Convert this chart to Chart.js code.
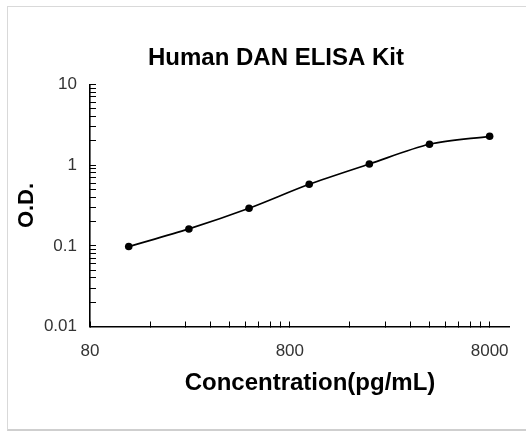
<!DOCTYPE html>
<html>
<head>
<meta charset="utf-8">
<script src="https://cdn.jsdelivr.net/npm/chart.js@4"></script>
<style>
html,body{margin:0;padding:0;background:#fff;}
#wrap{position:relative;width:526px;height:434px;overflow:hidden;}
#frame{position:absolute;left:7px;top:6px;width:560px;height:422px;border-left:1px solid #d9d9d9;border-top:1px solid #d9d9d9;border-bottom:2px solid #cfcfcf;}
canvas{position:absolute;left:0;top:0;}
</style>
</head>
<body>
<div id="wrap"><div id="frame"></div><canvas id="c" width="526" height="434"></canvas></div>
<script>
const chartTitle = 'Human DAN ELISA Kit';
const xAxisTitle = 'Concentration(pg/mL)';
const yAxisTitle = 'O.D.';
const concentrations = [125, 250, 500, 1000, 2000, 4000, 8000];
const odValues = [0.098, 0.162, 0.292, 0.579, 1.034, 1.815, 2.28];
const xTickValues = [80, 160, 240, 320, 400, 480, 560, 640, 720, 800, 1600, 2400, 3200, 4000, 4800, 5600, 6400, 7200, 8000];
const xTickLabels = ['80', '800', '8000'];
const yTickValues = [0.01, 0.02, 0.03, 0.04, 0.05, 0.06, 0.07, 0.08, 0.09, 0.1, 0.2, 0.3, 0.4, 0.5, 0.6, 0.7, 0.8, 0.9, 1, 2, 3, 4, 5, 6, 7, 8, 9, 10];
const yTickLabels = ['0.01', '0.1', '1', '10'];

const FONT = "'Liberation Sans', Arial, sans-serif";

const xTitlePlugin = {
  id: 'xTitle',
  afterDraw(chart) {
    const a = chart.chartArea;
    const ctx = chart.ctx;
    ctx.save();
    ctx.font = 'bold 24px ' + FONT;
    ctx.fillStyle = '#000';
    ctx.textAlign = 'center';
    ctx.textBaseline = 'middle';
    ctx.fillText(xAxisTitle, (a.left + a.right) / 2 + 10.5, a.bottom + 57.1);
    ctx.restore();
  }
};

new Chart(document.getElementById('c'), {
  type: 'line',
  data: {
    datasets: [{
      data: concentrations.map((x, i) => ({ x: x, y: odValues[i] })),
      borderColor: '#000',
      backgroundColor: '#000',
      borderWidth: 1.7,
      pointRadius: 3.8,
      pointBackgroundColor: '#000',
      pointBorderWidth: 0,
      tension: 0.3,
      fill: false
    }]
  },
  options: {
    responsive: false,
    animation: false,
    devicePixelRatio: 1,
    layout: { padding: { left: 43, right: 17, top: 0, bottom: 0 } },
    plugins: {
      legend: { display: false },
      tooltip: { enabled: false },
      title: {
        display: true,
        text: chartTitle,
        color: '#000',
        font: { family: FONT, size: 24, weight: 'bold' },
        padding: { top: 43.6, bottom: 12.1 }
      }
    },
    scales: {
      x: {
        type: 'logarithmic',
        min: 80,
        max: 10000,
        afterBuildTicks: s => { s.ticks = xTickValues.map(v => ({ value: v })); },
        afterFit: s => { s.height = 107.5; s.paddingLeft = 0; s.paddingRight = 0; },
        grid: { display: true, drawOnChartArea: false, drawTicks: true, tickLength: -5, color: '#000', lineWidth: 1 },
        border: { display: true, color: '#000', width: 1.6 },
        ticks: {
          autoSkip: false, maxRotation: 0, minRotation: 0, padding: 20, color: '#333',
          font: { family: FONT, size: 17 },
          callback: v => xTickLabels.includes(String(v)) ? String(v) : ''
        }
      },
      y: {
        type: 'logarithmic',
        min: 0.01,
        max: 10,
        afterBuildTicks: s => { s.ticks = yTickValues.map(v => ({ value: v })); },
        afterFit: s => { s.width = 47; s.paddingTop = 0; s.paddingBottom = 0; },
        grid: { display: true, drawOnChartArea: false, drawTicks: true, tickLength: -6, color: '#000', lineWidth: 1 },
        border: { display: true, color: '#000', width: 1.6 },
        ticks: {
          autoSkip: false, padding: 19, color: '#333',
          font: { family: FONT, size: 17 },
          callback: v => yTickLabels.includes(String(v)) ? String(v) : ''
        },
        title: {
          display: true, text: yAxisTitle, color: '#000',
          font: { family: FONT, size: 22, weight: 'bold' },
          padding: { top: -29.7, bottom: 0 }
        }
      }
    }
  },
  plugins: [xTitlePlugin]
});
</script>
</body>
</html>
